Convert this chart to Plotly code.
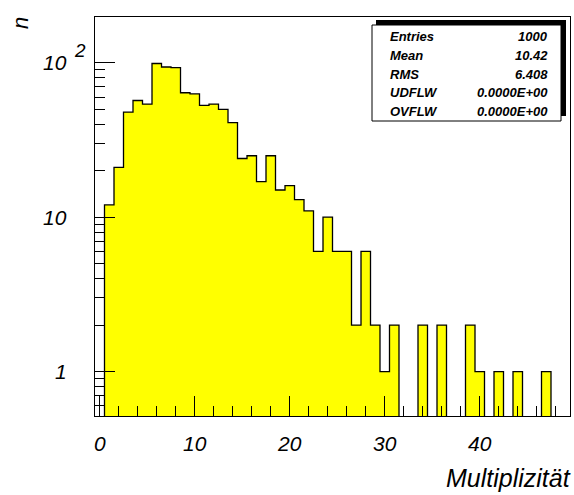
import math
import plotly.graph_objects as go

# ---------------- data ----------------
bin_centers = list(range(0, 50))          # multiplicity bins, width 1, range -0.5 .. 49.5
counts = [0, 12, 21, 48, 57, 54, 99, 94, 93, 64,
          63, 53, 54, 50, 41, 24, 25, 17, 25, 15,
          16, 13, 11, 6, 10, 6, 6, 2, 6, 2,
          1, 2, 0, 0, 2, 0, 2, 0, 0, 2,
          1, 0, 1, 0, 1, 0, 0, 1, 0, 0]
x_tick_vals = [0, 10, 20, 30, 40]
x_tick_text = ["0", "10", "20", "30", "40"]
y_major_vals = [1, 10, 100]
y_minor_vals = [0.6, 0.7, 0.8, 0.9, 2, 3, 4, 5, 6, 7, 8, 9,
                20, 30, 40, 50, 60, 70, 80, 90]
stat_labels = ["Entries", "Mean", "RMS", "UDFLW", "OVFLW"]
stat_values = ["1000", "10.42", "6.408", "0.0000E+00", "0.0000E+00"]

# ---------------- geometry ----------------
W, H = 574, 495
L, R, T, B = 95, 4, 17, 79
PW, PH = W - L - R, H - T - B
FONT = "Liberation Sans, Arial, Helvetica, sans-serif"


def px(xp):
    return (xp - L) / PW


def py(yp):
    return (H - B - yp) / PH


fig = go.Figure()

# filled histogram
fig.add_trace(go.Bar(
    x=bin_centers,
    y=[c if c > 0 else None for c in counts],
    width=1,
    marker=dict(color="#ffff00", line=dict(width=0)),
    hoverinfo="skip",
))

# outline (step)
edges = [c - 0.5 for c in bin_centers] + [bin_centers[-1] + 0.5]
step_y = [c if c > 0 else 0.01 for c in counts]
step_y = step_y + [step_y[-1]]
fig.add_trace(go.Scatter(
    x=edges, y=step_y, mode="lines",
    line=dict(color="black", width=1.3, shape="hv"),
    hoverinfo="skip",
))

fig.update_layout(
    width=W, height=H,
    margin=dict(l=L, r=R, t=T, b=B),
    paper_bgcolor="white", plot_bgcolor="white",
    showlegend=False, bargap=0,
)

fig.update_xaxes(
    range=[-0.5, 49.5],
    showgrid=False, zeroline=False,
    showline=True, linecolor="black", linewidth=1, mirror=True,
    ticks="inside", ticklen=20, tickcolor="black", tickwidth=1,
    tickvals=x_tick_vals, ticktext=x_tick_text,
    tickfont=dict(family=FONT, size=21, color="black", style="italic"),
    ticklabelstandoff=9,
    minor=dict(ticks="inside", ticklen=10, tickcolor="black", tickwidth=1,
               dtick=2, tick0=0, showgrid=False),
)

fig.update_yaxes(
    type="log", range=[-0.288, 2.297],
    showgrid=False, zeroline=False,
    showline=True, linecolor="black", linewidth=1, mirror=True,
    ticks="inside", ticklen=20, tickcolor="black", tickwidth=1,
    tickvals=y_major_vals, showticklabels=False,
    minor=dict(ticks="inside", ticklen=10, tickcolor="black", tickwidth=1,
               tickvals=y_minor_vals, showgrid=False),
)

ann = []
# y tick labels
for v, t in zip(y_major_vals, ["1", "10", "10"]):
    ann.append(dict(xref="paper", yref="y", x=px(69), y=math.log10(v),
                    text=t, showarrow=False, xanchor="right", yanchor="middle",
                    font=dict(family=FONT, size=21, color="black", style="italic")))
ann.append(dict(xref="paper", yref="y", x=px(72), y=2, yshift=12,
                text="2", showarrow=False, xanchor="left", yanchor="middle",
                font=dict(family=FONT, size=19, color="black", style="italic")))

# axis titles
ann.append(dict(xref="paper", yref="paper", x=px(20.5), y=py(23.5),
                text="n", textangle=-90, showarrow=False,
                xanchor="center", yanchor="middle",
                font=dict(family=FONT, size=22, color="black", style="italic")))
ann.append(dict(xref="paper", yref="paper", x=px(573), y=py(478),
                text="Multiplizität", showarrow=False,
                xanchor="right", yanchor="middle",
                font=dict(family=FONT, size=25, color="black", style="italic")))

# stats box
shapes = [
    dict(type="rect", xref="paper", yref="paper",
         x0=px(376), x1=px(566), y0=py(116), y1=py(20),
         fillcolor="black", line=dict(width=0)),
    dict(type="rect", xref="paper", yref="paper",
         x0=px(372), x1=px(561), y0=py(121), y1=py(25),
         fillcolor="white", line=dict(color="black", width=1)),
]
row_y = [36, 55, 74, 92.5, 111]
for lab, val, yy in zip(stat_labels, stat_values, row_y):
    f = dict(family=FONT, size=13, color="black", style="italic", weight="bold")
    ann.append(dict(xref="paper", yref="paper", x=px(388), y=py(yy), text=lab,
                    showarrow=False, xanchor="left", yanchor="middle", font=f))
    ann.append(dict(xref="paper", yref="paper", x=px(550), y=py(yy), text=val,
                    showarrow=False, xanchor="right", yanchor="middle", font=f))

fig.update_layout(annotations=ann, shapes=shapes)

fig.write_html("out.html")
